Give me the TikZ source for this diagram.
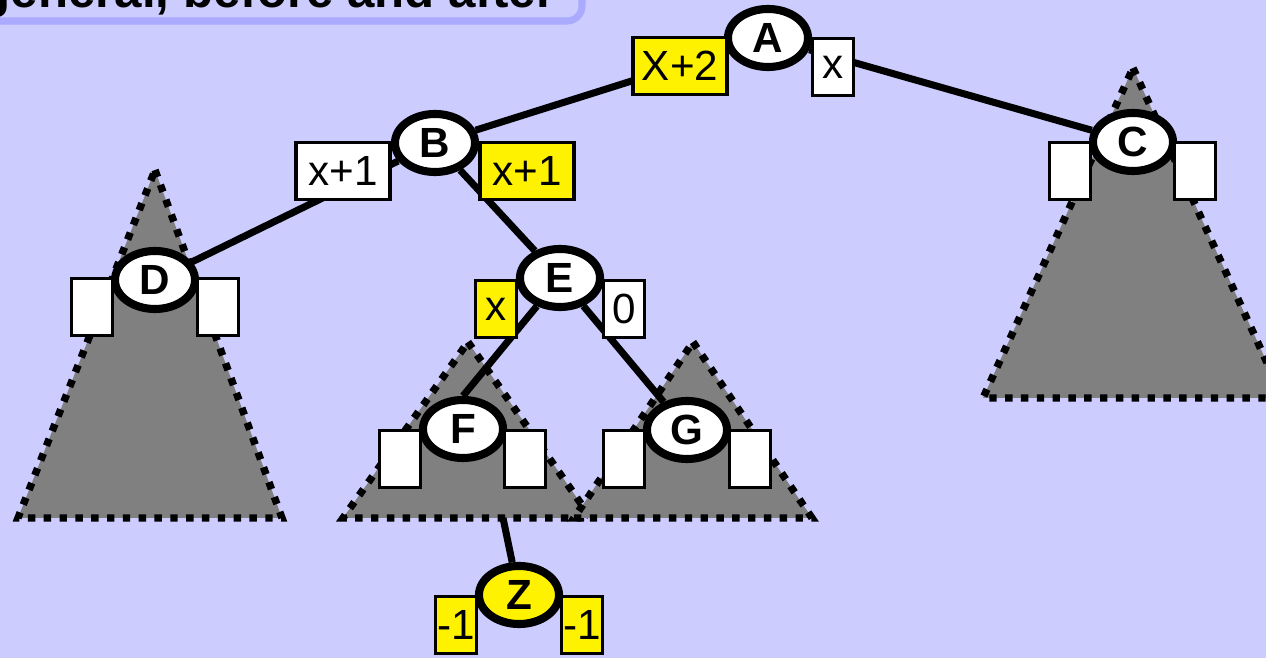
\documentclass[tikz,border=0pt]{standalone}
\usepackage{fontspec}
\setmainfont{Liberation Sans}
\usetikzlibrary{shapes.geometric, positioning}

\definecolor{bgblue}{HTML}{CCCCFF}
\definecolor{frameblue}{HTML}{AAAAFF}
\definecolor{treegray}{HTML}{808080}

\pgfdeclarelayer{back}
\pgfdeclarelayer{links}
\pgfsetlayers{back,links,main}

\begin{document}
\begin{tikzpicture}[
    x=0.01cm, y=-0.01cm,
    tnode/.style={ellipse, draw, line width=2.3pt, fill=white, minimum width=0.80cm, minimum height=0.58cm, inner sep=0pt, font=\bfseries\fontsize{12}{14}\selectfont},
    bal/.style={rectangle, draw, line width=1pt, fill=white, inner sep=0pt, minimum width=0.41cm, minimum height=0.57cm, font=\fontsize{12}{14}\selectfont},
    wide/.style={minimum width=0.94cm},
    hot/.style={fill=yellow},
    subtree/.style={fill=treegray, draw, line width=2.1pt, dash pattern=on 2.1pt off 2.4pt},
    link/.style={draw, line width=2pt}
]
\useasboundingbox (0,0) rectangle (1266,658);
\clip (0,0) rectangle (1266,658);

% Background, title and subtrees
\begin{pgfonlayer}{back}
\fill[bgblue] (0,0) rectangle (1266,658);
\draw[frameblue, line width=2pt, rounded corners=1.5mm] (-40,-80) rectangle (582,21);
\node[anchor=base east, inner sep=0pt, font=\bfseries\fontsize{14}{17}\selectfont] (title) at (556,8) {general, before and after};

\draw[subtree] (155,170) -- (282,518) -- (18,518) -- cycle;
\draw[subtree] (468,342) -- (591,518) -- (343,518) -- cycle;
\draw[subtree] (693,342) -- (812,518) -- (574,518) -- cycle;
\draw[subtree] (1133,68) -- (1283,398) -- (983,398) -- cycle;
\end{pgfonlayer}

% Tree nodes
\node[tnode] (A) at (768,38) {A};
\node[tnode] (B) at (435,143) {B};
\node[tnode] (C) at (1133,142) {C};
\node[tnode] (D) at (155,280) {D};
\node[tnode] (E) at (560,278) {E};
\node[tnode] (F) at (463,429) {F};
\node[tnode] (G) at (687,430) {G};
\node[tnode, hot] (Z) at (519,595) {Z};
\coordinate (Fleaf) at (503,518);

% Balance boxes
\node[bal, wide, hot] (A_l) at (680,66) {X+2};
\node[bal] (A_r) at (833,67) {x};
\node[bal, wide] (B_l) at (343,171) {x+1};
\node[bal, wide, hot] (B_r) at (527,171) {x+1};
\node[bal] (C_l) at (1070,171) {};
\node[bal] (C_r) at (1195,171) {};
\node[bal] (D_l) at (92,307) {};
\node[bal] (D_r) at (218,307) {};
\node[bal, hot] (E_l) at (496,309) {x};
\node[bal] (E_r) at (624,309) {0};
\node[bal] (F_l) at (400,459) {};
\node[bal] (F_r) at (525,459) {};
\node[bal] (G_l) at (624,459) {};
\node[bal] (G_r) at (750,459) {};
\node[bal, hot] (Z_l) at (456,625) {-1};
\node[bal, hot] (Z_r) at (582,625) {-1};

% Links
\begin{pgfonlayer}{links}
\path[link] (A) -- (B);
\path[link] (A) -- (C);
\path[link] (B) -- (D);
\path[link] (B) -- (E);
\path[link] (E) -- (F.north);
\path[link] (E) -- (G);
\path[link] (Fleaf) -- (Z);
\end{pgfonlayer}

\end{tikzpicture}
\end{document}
